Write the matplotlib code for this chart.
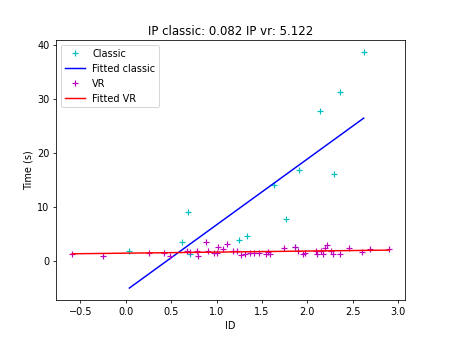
import numpy as np
import matplotlib
matplotlib.use("Agg")
import matplotlib.pyplot as plt

# classic condition: index of difficulty vs. movement time
classic_id = [2.62, 2.36, 2.14, 1.91, 2.29, 1.63, 0.69, 1.76, 0.62, 1.25,
              1.33, 0.04, 0.71, 1.86]
classic_time = [38.7, 31.2, 27.8, 16.9, 16.0, 14.1, 9.1, 7.8, 3.5, 3.9,
                4.6, 1.85, 1.2, 2.5]

# VR condition
vr_id = [-0.59, -0.25, 0.26, 0.42, 0.49, 0.68, 0.71, 0.79, 0.80, 0.88,
         0.91, 0.97, 1.01, 1.02, 1.07, 1.12, 1.18, 1.22, 1.27, 1.31,
         1.37, 1.41, 1.47, 1.54, 1.57, 1.59, 1.74, 1.86, 1.90, 1.95,
         1.97, 2.09, 2.11, 2.15, 2.17, 2.19, 2.22, 2.26, 2.28, 2.36,
         2.46, 2.60, 2.69, 2.90]
vr_time = [1.3, 0.93, 1.42, 1.54, 0.93, 1.79, 1.6, 1.73, 0.93, 3.46,
           1.79, 1.54, 1.42, 2.65, 2.22, 3.08, 1.79, 1.73, 1.1, 1.23,
           1.54, 1.48, 1.48, 1.3, 1.6, 1.3, 2.41, 2.53, 1.85, 1.3,
           1.54, 1.85, 1.3, 1.79, 1.3, 2.34, 3.02, 1.85, 1.3, 1.3,
           2.41, 1.66, 2.28, 2.1]

# throughput (IP) = 1 / slope
ip_classic = 0.082
ip_vr = 5.122
intercept_classic = -5.53
intercept_vr = 1.42

fig = plt.figure(figsize=(6.4, 4.8), dpi=70.3125)

xc = np.array([min(classic_id), max(classic_id)])
xv = np.array([min(vr_id), max(vr_id)])

plt.plot(classic_id, classic_time, '+', color='c', ms=7, mew=1.2, label="Classic")
plt.plot(xc, xc / ip_classic + intercept_classic, 'b-', label="Fitted classic")
plt.plot(vr_id, vr_time, '+', color='m', ms=7, mew=1.2, label="VR")
plt.plot(xv, xv / ip_vr + intercept_vr, 'r-', label="Fitted VR")

plt.title("IP classic: %.3f IP vr: %.3f" % (ip_classic, ip_vr))
plt.xlabel("ID")
plt.ylabel("Time (s)")
plt.legend(loc='upper left')
plt.savefig("out.png")
